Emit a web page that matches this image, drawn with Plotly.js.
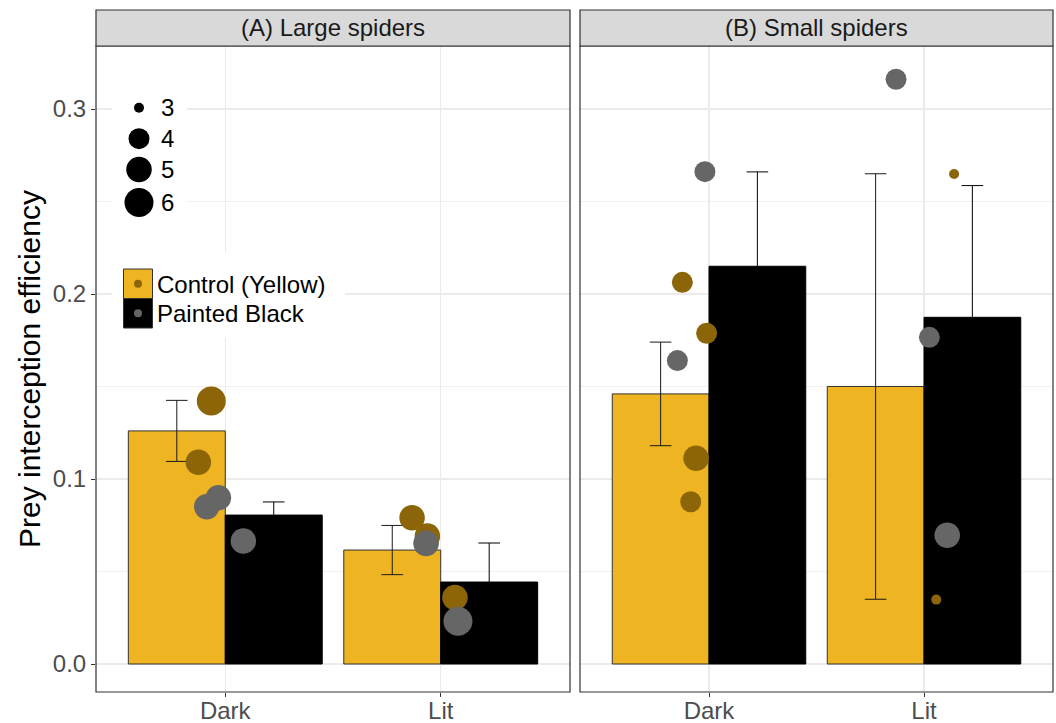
<!DOCTYPE html>
<html>
<head>
<meta charset="utf-8">
<script src="https://cdn.plot.ly/plotly-3.0.1.min.js"></script>
<style>
  html, body { margin: 0; padding: 0; background: #ffffff; }
  #chart { width: 1056px; height: 723px; }
</style>
</head>
<body>
<div id="chart"></div>
<script>
// ---------------- data ----------------
const lightCategories = ['Dark', 'Lit'];
const treatmentNames = ['Control (Yellow)', 'Painted Black'];
const panelTitles = ['(A) Large spiders', '(B) Small spiders'];
const yTitle = 'Prey interception efficiency';
const yTickVals = [0.0, 0.1, 0.2, 0.3];
const sizeLegendValues = [3, 4, 5, 6];

// bar means and standard errors (Dark, Lit)
const largeControlMean = [0.126, 0.0616];
const largeControlSE   = [0.0165, 0.0133];
const largeBlackMean   = [0.0805, 0.0443];
const largeBlackSE     = [0.0071, 0.0211];
const smallControlMean = [0.146, 0.150];
const smallControlSE   = [0.028, 0.115];
const smallBlackMean   = [0.215, 0.1874];
const smallBlackSE     = [0.051, 0.0712];

const largeControlLight  = ['Dark', 'Dark', 'Lit', 'Lit', 'Lit'];
const largeControlValue  = [0.1422, 0.1090, 0.0791, 0.0692, 0.0360];
const largeControlN      = [6, 5, 5, 5, 5];
const largeControlJitter = [-0.065, -0.125, -0.133, -0.062, 0.066];

const largeBlackLight  = ['Dark', 'Dark', 'Dark', 'Lit', 'Lit'];
const largeBlackValue  = [0.0899, 0.0850, 0.0665, 0.0652, 0.0231];
const largeBlackN      = [5, 5, 5, 5, 6];
const largeBlackJitter = [-0.032, -0.086, 0.084, -0.068, 0.080];

const smallControlLight  = ['Dark', 'Dark', 'Dark', 'Dark', 'Lit', 'Lit'];
const smallControlValue  = [0.2063, 0.1788, 0.1112, 0.0877, 0.2649, 0.0348];
const smallControlN      = [4, 4, 5, 4, 3, 3];
const smallControlJitter = [-0.124, -0.011, -0.060, -0.085, 0.140, 0.057];

const smallBlackLight  = ['Dark', 'Dark', 'Lit', 'Lit', 'Lit'];
const smallBlackValue  = [0.2661, 0.1640, 0.3161, 0.1766, 0.0696];
const smallBlackN      = [4, 4, 4, 4, 5];
const smallBlackJitter = [-0.019, -0.147, -0.130, 0.025, 0.108];

// ---------------- styles ----------------
const FONT = 'Liberation Sans, Arial, Helvetica, sans-serif';
const barFill = ['#EEB422', '#000000'];
const barLine = ['#333333', '#000000'];
const errColor = ['#1a1a1a', '#000000'];
const pointColor = ['#8B6508', '#666666'];
const gridColor = '#EBEBEB';
const borderColor = '#333333';
const TXT = 24;

// size scale (area-like) -> marker diameter in px
function sizeScale(v) { return 10 + 19 * Math.sqrt((v - 3) / 3); }
const catIndex = c => lightCategories.indexOf(c) + 1;

// pixel layout
const L = 96, R = 3, T = 46, B = 31, W = 1056, H = 723;
const PW = W - L - R, PH = H - T - B;
const px = p => (p - L) / PW;
const py = p => (H - B - p) / PH;

function barTrace(k, means, se, xa, ya) {
  return {
    type: 'bar', name: treatmentNames[k], showlegend: false,
    x: lightCategories.map(catIndex), y: means,
    xaxis: xa, yaxis: ya,
    marker: { color: barFill[k], line: { color: barLine[k], width: 1 } },
    error_y: { type: 'data', array: se, symmetric: true, color: errColor[k], thickness: 1, width: 10.8 },
    hoverinfo: 'skip'
  };
}
function pointTrace(k, light, vals, ns, jit, xa, ya) {
  return {
    type: 'scatter', mode: 'markers', name: treatmentNames[k], showlegend: false,
    x: light.map((c, i) => catIndex(c) + jit[i]), y: vals,
    xaxis: xa, yaxis: ya,
    marker: { color: pointColor[k], size: ns.map(sizeScale), line: { width: 0 }, opacity: 1 },
    hoverinfo: 'skip'
  };
}

const data = [
  barTrace(0, largeControlMean, largeControlSE, 'x', 'y'),
  barTrace(1, largeBlackMean, largeBlackSE, 'x', 'y'),
  barTrace(0, smallControlMean, smallControlSE, 'x2', 'y2'),
  barTrace(1, smallBlackMean, smallBlackSE, 'x2', 'y2'),
  pointTrace(0, largeControlLight, largeControlValue, largeControlN, largeControlJitter, 'x', 'y'),
  pointTrace(1, largeBlackLight, largeBlackValue, largeBlackN, largeBlackJitter, 'x', 'y'),
  pointTrace(0, smallControlLight, smallControlValue, smallControlN, smallControlJitter, 'x2', 'y2'),
  pointTrace(1, smallBlackLight, smallBlackValue, smallBlackN, smallBlackJitter, 'x2', 'y2')
];

const yRange = [-(H - B - 664) / 1850, (664 - T) / 1850];

const xBase = {
  type: 'linear', range: [0.4, 2.6], tickvals: [1, 2], ticktext: lightCategories,
  showgrid: true, gridcolor: gridColor, gridwidth: 1.5, zeroline: false, showline: false,
  ticks: 'outside', ticklen: 4, tickcolor: borderColor, tickwidth: 1, ticklabelstandoff: -7,
  tickfont: { family: FONT, size: TXT, color: '#4D4D4D' }, fixedrange: true
};
const yBase = {
  type: 'linear', range: yRange, tickvals: yTickVals, ticktext: yTickVals.map(v => v.toFixed(1)),
  showgrid: true, gridcolor: gridColor, gridwidth: 1.5, zeroline: false, showline: false,
  minor: { tickvals: [0.05, 0.15, 0.25], showgrid: true, gridcolor: '#F0F0F0', gridwidth: 1, ticks: '' },
  tickfont: { family: FONT, size: TXT, color: '#4D4D4D' }, fixedrange: true
};

const shapes = [];
const annotations = [];
[['x', 'y'], ['x2', 'y2']].forEach(([xa, ya], k) => {
  shapes.push({ type: 'rect', xref: xa + ' domain', yref: ya + ' domain', x0: 0, x1: 1, y0: 0, y1: 1,
    line: { color: borderColor, width: 1.2 }, fillcolor: 'rgba(0,0,0,0)', layer: 'above' });
  shapes.push({ type: 'rect', xref: xa + ' domain', yref: ya + ' domain', x0: 0, x1: 1, y0: 1, y1: 1 + 36 / PH,
    line: { color: borderColor, width: 1.2 }, fillcolor: '#D9D9D9', layer: 'above' });
  annotations.push({ xref: xa + ' domain', yref: ya + ' domain', x: 0.5, y: 1 + 18 / PH, showarrow: false,
    xanchor: 'center', yanchor: 'middle', text: panelTitles[k], font: { family: FONT, size: TXT, color: '#1A1A1A' } });
});

// size legend
shapes.push({ type: 'rect', xref: 'paper', yref: 'paper', x0: px(112), x1: px(187), y0: py(86), y1: py(224),
  line: { width: 0 }, fillcolor: '#ffffff', layer: 'above' });
const sizeLegendY = [107.7, 138.7, 169.5, 202.5];
sizeLegendValues.forEach((v, i) => {
  const d = sizeScale(v);
  shapes.push({ type: 'circle', xref: 'paper', yref: 'paper', xsizemode: 'pixel', ysizemode: 'pixel',
    xanchor: px(139), yanchor: py(sizeLegendY[i]), x0: -d / 2, x1: d / 2, y0: -d / 2, y1: d / 2,
    fillcolor: '#000000', line: { width: 0 }, layer: 'above' });
  annotations.push({ xref: 'paper', yref: 'paper', x: px(159), y: py(sizeLegendY[i]), xanchor: 'left', yanchor: 'middle',
    showarrow: false, text: String(v), font: { family: FONT, size: TXT, color: '#000000' } });
});

// fill legend
shapes.push({ type: 'rect', xref: 'paper', yref: 'paper', x0: px(112), x1: px(345), y0: py(252), y1: py(338),
  line: { width: 0 }, fillcolor: '#ffffff', layer: 'above' });
const keyTop = [269, 298.5];
treatmentNames.forEach((name, i) => {
  shapes.push({ type: 'rect', xref: 'paper', yref: 'paper', x0: px(123.5), x1: px(152.5), y0: py(keyTop[i]), y1: py(keyTop[i] + 29.5),
    fillcolor: barFill[i], line: { color: '#333333', width: 1 }, layer: 'above' });
  shapes.push({ type: 'circle', xref: 'paper', yref: 'paper', xsizemode: 'pixel', ysizemode: 'pixel',
    xanchor: px(138), yanchor: py(keyTop[i] + 14.75), x0: -4, x1: 4, y0: -4, y1: 4,
    fillcolor: pointColor[i], line: { width: 0 }, layer: 'above' });
  annotations.push({ xref: 'paper', yref: 'paper', x: px(155), y: py(keyTop[i] + 15), xanchor: 'left', yanchor: 'middle',
    showarrow: false, text: name, font: { family: FONT, size: TXT, color: '#000000' } });
});

// y axis title
annotations.push({ xref: 'paper', yref: 'paper', x: px(29), y: 0.5, xanchor: 'center', yanchor: 'middle',
  textangle: -90, showarrow: false, text: yTitle, font: { family: FONT, size: 30, color: '#000000' } });

const layout = {
  width: W, height: H,
  margin: { l: L, r: R, t: T, b: B, pad: 0 },
  paper_bgcolor: '#ffffff', plot_bgcolor: '#ffffff',
  barmode: 'group', bargap: 0.1, bargroupgap: 0,
  showlegend: false,
  font: { family: FONT },
  xaxis: Object.assign({}, xBase, { domain: [0, 474 / PW], anchor: 'y' }),
  xaxis2: Object.assign({}, xBase, { domain: [484 / PW, 1], anchor: 'y2' }),
  yaxis: Object.assign({}, yBase, { anchor: 'x', ticks: 'outside', ticklen: 4, tickcolor: borderColor, tickwidth: 1 }),
  yaxis2: Object.assign({}, yBase, { anchor: 'x2', matches: 'y', showticklabels: false, ticks: '' }),
  shapes: shapes,
  annotations: annotations
};

Plotly.newPlot('chart', data, layout, { staticPlot: true, displayModeBar: false });
</script>
</body>
</html>
